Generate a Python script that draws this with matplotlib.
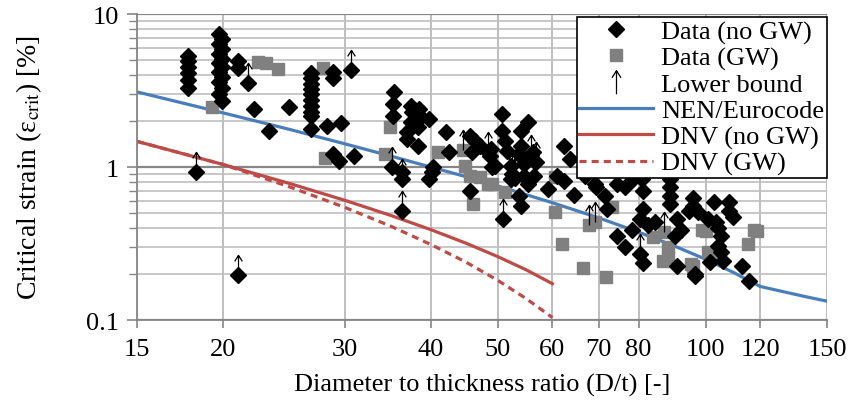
import numpy as np
import matplotlib.pyplot as plt
from matplotlib.path import Path
from matplotlib.lines import Line2D
from matplotlib.ticker import NullLocator, NullFormatter

plt.rcParams['font.family'] = ['Liberation Serif', 'DejaVu Serif']
plt.rcParams['mathtext.fontset'] = 'stix'

# --- test data, D/t vs critical strain [%] ---
# no girth weld
nogw_x = [17.8, 17.8, 17.8, 17.8, 17.8, 17.8,
          19.7, 19.9, 19.7, 19.9, 19.7, 19.9, 19.7, 19.9, 19.7, 19.9, 19.7, 19.9, 19.7, 19.9,
          21.0, 21.0, 22.2, 24.9, 23.3,
          26.8, 26.8, 26.8, 26.8, 26.8, 26.8, 26.8, 26.8, 26.8, 26.8,
          28.9, 28.9, 28.3, 29.6, 28.9, 29.4, 31.0,
          35.4, 35.2, 37.4, 38.4, 37.6, 38.7, 39.8, 37.4, 37.0, 38.3, 38.3, 37.0, 35.2,
          36.3, 40.1, 39.8, 40.3, 42.1, 42.5,
          45.6, 46.4, 45.9, 47.1, 45.6, 48.7, 49.1, 50.7, 50.7,
          55.3, 54.0, 51.2, 51.6, 54.0, 53.6, 56.2, 56.4, 54.6, 48.9, 49.5, 52.2, 54.6, 56.4,
          52.2, 55.3, 53.6, 54.0,
          62.3, 63.7, 62.3, 59.1, 64.5, 61.0,
          69.2, 71.4, 72.0, 74.4, 66.8, 69.5,
          74.4, 76.4, 78.5, 81.0, 81.3,
          81.3, 80.5, 82.6, 78.2, 76.4, 81.3,
          88.8, 88.8, 88.8, 88.8, 84.6, 91.0, 92.0, 90.4, 91.0, 96.5,
          95.9, 95.9, 97.4, 94.5,
          103.0, 108.3, 108.3, 109.7, 100.9, 103.6, 104.2, 105.3, 104.2, 105.3, 106.0,
          101.6, 96.5, 113.0, 115.6]
nogw_y = [5.3, 4.9, 4.5, 4.1, 3.7, 3.3,
          7.4, 6.9, 6.4, 5.9, 5.5, 5.1, 4.8, 4.5, 4.2, 3.9, 3.6, 3.3, 3.0, 2.7,
          4.9, 4.45, 2.39, 2.47, 1.72,
          4.1, 3.8, 3.5, 3.25, 3.0, 2.75, 2.5, 2.3, 2.15, 1.77,
          4.18, 3.82, 1.85, 1.94, 1.22, 1.1, 1.19,
          3.09, 2.58, 2.5, 2.39, 2.29, 2.12, 2.06, 1.97, 1.70, 1.83, 1.37, 1.53, 2.15,
          0.93, 0.93, 0.83, 1.0, 1.70, 1.25,
          1.6, 1.48, 1.25, 1.37, 0.70, 1.18, 1.0, 2.22, 1.72,
          1.97, 1.72, 1.48, 1.27, 1.37, 1.22, 1.25, 1.10, 1.05, 1.31, 1.02, 1.02, 0.87, 0.87,
          0.83, 0.78, 0.645, 0.556,
          1.37, 1.13, 0.81, 0.72, 0.66, 0.87,
          0.77, 0.645, 0.53, 0.355, 0.87, 0.74,
          0.78, 0.74, 0.83, 0.83, 0.70,
          0.53, 0.46, 0.42, 0.39, 0.30, 0.235,
          0.83, 0.74, 0.645, 0.57, 0.44, 0.46, 0.39, 0.355, 0.227, 0.20,
          0.63, 0.56, 0.51, 0.52,
          0.59, 0.59, 0.52, 0.47, 0.46, 0.44, 0.40, 0.355, 0.305, 0.28, 0.245,
          0.24, 0.195, 0.227, 0.18]

# with girth weld
gw_x = [19.3, 22.5, 23.1, 24.0, 27.9, 28.1, 34.9, 34.3, 40.9, 44.5,
        44.8, 45.6, 47.1, 48.4, 46.1, 49.1, 51.2,
        60.6, 60.6, 61.9, 67.7, 69.2, 73.3, 66.5, 71.8,
        83.8, 88.3, 88.3, 86.8, 95.2, 87.2,
        99.0, 100.0, 101.0, 103.0, 96.0, 117.5, 118.8, 115.2]
gw_y = [2.47, 4.85, 4.8, 4.37, 4.45, 1.15, 1.83, 1.22, 1.25, 1.3,
        1.02, 0.87, 0.86, 0.77, 0.57, 0.77, 0.69,
        0.86, 0.51, 0.314, 0.42, 0.44, 0.55, 0.22, 0.19,
        0.35, 0.30, 0.26, 0.245, 0.234, 0.376,
        0.39, 0.38, 0.28, 0.26, 0.227, 0.39, 0.38, 0.314]

# tests that did not fail -> lower bound only
lb_x = [18.3, 21.0, 21.7, 30.6, 35.1, 36.3, 36.3, 44.5, 48.4, 50.9,
        55.8, 56.8, 52.4, 53.0, 67.7, 69.2, 80.5, 87.2]
lb_y = [0.93, 0.197, 3.54, 4.3, 1.0, 0.83, 0.515, 1.3, 1.25, 0.457,
        1.2, 1.08, 0.9, 0.85, 0.42, 0.44, 0.27, 0.376]
lb_nogw_x = [18.3, 21.0, 21.7, 30.6, 35.1, 36.3, 36.3, 48.4, 50.9, 55.8, 56.8, 52.4, 53.0, 80.5]
lb_nogw_y = [0.93, 0.197, 3.54, 4.3, 1.0, 0.83, 0.515, 1.25, 0.457, 1.2, 1.08, 0.9, 0.85, 0.27]

# design curves
nen_x = [15, 20, 25, 30, 35, 40, 45, 50, 60, 70, 80, 90, 100, 110, 120, 130, 140, 150]
nen_y = [3.10, 2.26, 1.76, 1.42, 1.18, 1.00, 0.865, 0.753, 0.585, 0.466, 0.376, 0.306,
         0.250, 0.204, 0.166, 0.153, 0.142, 0.133]
dnv_x = [15, 20, 25, 30, 35, 40, 45, 50, 55, 60]
dnv_y = [1.473, 1.04, 0.78, 0.607, 0.483, 0.39, 0.318, 0.26, 0.213, 0.173]
dnv_gw_y = [1.473, 1.04, 0.741, 0.546, 0.411, 0.312, 0.239, 0.182, 0.138, 0.104]

xticks = [15, 20, 30, 40, 50, 60, 70, 80, 100, 120, 150]
yticks = [0.1, 1, 10]
yminor = [0.2, 0.3, 0.4, 0.5, 0.6, 0.7, 0.8, 0.9, 2, 3, 4, 5, 6, 7, 8, 9]

BLUE = '#4A7EBB'
RED = '#BE4B48'
GREY = '#808080'
AX_GREY = '#868686'
FS = 19

# arrow marker: starts at the data point and points up
arrow_up = Path([(0, 0), (0, 2), (-0.38, 1.4), (0, 2), (0.38, 1.4)],
                [Path.MOVETO, Path.LINETO, Path.MOVETO, Path.LINETO, Path.LINETO])
# centred version for the legend
arrow_leg = Path([(0, -1), (0, 1), (-0.38, 0.4), (0, 1), (0.38, 0.4)],
                 [Path.MOVETO, Path.LINETO, Path.MOVETO, Path.LINETO, Path.LINETO])

fig = plt.figure(figsize=(8.5, 4.06), dpi=100)
ax = fig.add_axes([0.161, 0.209, 0.812, 0.754])
ax.set_xscale('log')
ax.set_yscale('log')

ax.plot(nen_x, nen_y, color=BLUE, lw=2.3, zorder=2)
ax.plot(dnv_x, dnv_y, color=RED, lw=2.3, zorder=2)
ax.plot(dnv_x, dnv_gw_y, color=RED, lw=2.3, ls=(0, (2.2, 1.6)), zorder=2)

ax.plot(nogw_x, nogw_y, ls='none', marker='D', ms=8, color='black', zorder=4)
ax.plot(lb_nogw_x, lb_nogw_y, ls='none', marker='D', ms=8, color='black', zorder=4)
ax.plot(gw_x, gw_y, ls='none', marker='s', ms=8.5, color=GREY, zorder=3)
ax.plot(lb_x, lb_y, ls='none', marker=arrow_up, ms=29, mfc='none', mec='black',
        mew=0.9, zorder=5)

ax.set_xlim(15, 150)
ax.set_ylim(0.1, 10)

ax.set_xticks(xticks)
ax.set_xticklabels([str(v) for v in xticks])
ax.xaxis.set_minor_locator(NullLocator())
ax.set_yticks(yticks)
ax.set_yticklabels(['0.1', '1', '10'])
ax.set_yticks(yminor, minor=True)
ax.yaxis.set_minor_formatter(NullFormatter())

ax.tick_params(axis='both', which='major', labelsize=FS, color=AX_GREY, width=1.2)
ax.tick_params(axis='y', which='major', length=7, pad=6)
ax.tick_params(axis='y', which='minor', length=6, color=AX_GREY, width=1.0)
ax.tick_params(axis='x', which='major', length=6, pad=7)

ax.set_axisbelow(True)
ax.grid(True, which='major', axis='x', color='#B3B3B3', lw=1.2)
ax.grid(True, which='major', axis='y', color=AX_GREY, lw=1.6)
ax.grid(True, which='minor', axis='y', color='#BFBFBF', lw=1.2)

for side in ['top', 'right']:
    ax.spines[side].set_visible(False)
for side in ['left', 'bottom']:
    ax.spines[side].set_color(AX_GREY)
    ax.spines[side].set_linewidth(1.3)

ax.set_xlabel('Diameter to thickness ratio (D/t) [-]', fontsize=FS, labelpad=9)
ax.set_ylabel('Critical strain (ε$_{\\mathrm{crit}}$) [%]', fontsize=20, labelpad=30)

handles = [
    Line2D([], [], ls='none', marker='D', ms=8, color='black'),
    Line2D([], [], ls='none', marker='s', ms=8.5, color=GREY),
    Line2D([], [], ls='none', marker=arrow_leg, ms=17, mfc='none', mec='black', mew=0.9),
    Line2D([], [], color=BLUE, lw=2.3),
    Line2D([], [], color=RED, lw=2.3),
    Line2D([], [], color=RED, lw=2.3, ls=(0, (2.2, 1.6))),
]
labels = ['Data (no GW)', 'Data (GW)', 'Lower bound', 'NEN/Eurocode', 'DNV (no GW)', 'DNV (GW)']
leg = ax.legend(handles, labels, loc='upper right', bbox_to_anchor=(1.0, 0.99),
                fontsize=FS, frameon=True, fancybox=False, framealpha=1,
                edgecolor='black', borderpad=0.1, labelspacing=0.1,
                handlelength=2.8, handletextpad=0.3, borderaxespad=0.0)
leg.get_frame().set_linewidth(1.2)
leg.set_zorder(10)

fig.savefig('out.png', dpi=100)
